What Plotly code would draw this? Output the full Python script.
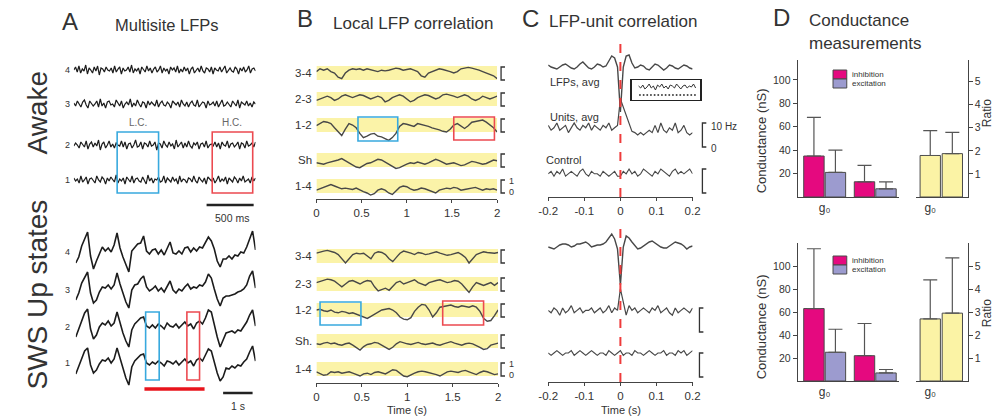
import numpy as np
import plotly.graph_objects as go

# ====================== DATA ======================
# Panel A - multisite LFPs (arbitrary units), awake window 0-1.93 s, SWS window 0-6.1 s
A_AWAKE_SECONDS = 1.93
A_AWAKE_CH4 = [0,3,-2,4,-3,1,-1,5,-4,2,0,-3,3,-1,4,-5,2,1,-2,3,0,-1,2,-3,4,-2,1,3,-4,2,-1,0,3,-2,5,-3,1,-1,2,-4,3,0,-2,4,-1,2,-3,1,3,-2,0,4,-3,2,-1,1,-4,3,0,2,-2,4,-3,1,-2,3,-1,2,-4,1,3,-3,0,2,-2,4,-1,-3,2,1,-2,3,-4,2,0,-1,3,-2,1,4,-3,0,2,-1,-2,3,1,-4,2,-1,3,-2,0,4,-3,1,2,-1]
A_AWAKE_CH3 = [1,-2,3,0,-3,2,4,-1,-4,3,1,-2,0,3,-3,5,-2,1,-4,2,3,-1,0,-3,4,1,-2,3,-4,0,2,-1,5,-3,1,-2,4,0,-3,2,1,-4,3,-1,2,0,-2,4,-3,1,3,-1,-2,2,0,-4,3,1,-1,2,-3,4,0,-2,2,-3,1,3,-1,-2,4,-3,0,2,1,-4,3,-1,0,2,-2,3,-3,1,4,-2,-1,2,0,-3,3,1,-2,4,-4,2,0,-1,3,-2,1,-3,2,0]
A_AWAKE_CH2 = [-1,2,0,-3,3,1,-2,4,-4,1,3,-2,2,-1,5,-5,1,3,-3,0,4,-2,1,-3,2,0,-1,4,-2,3,-4,1,2,-3,0,5,-2,-1,3,-4,2,1,-2,4,-1,0,3,-5,2,1,-3,4,0,-2,3,-1,1,-4,5,-2,0,3,-3,2,-2,4,-1,-3,2,0,3,-4,1,2,-2,4,-3,0,1,-1,3,-2,2,-4,3,0,-1,4,-3,1,2,-2,0,3,-4,2,1,-3,4,-1,0,2,-2,3]
A_AWAKE_CH1 = [2,-1,1,-3,4,-2,0,3,-4,1,2,-1,-3,4,0,-2,3,1,-4,2,-1,3,0,-2,5,-3,1,-1,2,-4,3,0,-2,4,-3,1,2,-1,-2,3,0,-4,5,-1,2,-3,1,0,3,-2,-1,4,-3,2,0,-2,3,-1,1,-4,4,-2,1,0,-3,2,1,-2,4,-1,-3,3,0,-2,2,-4,3,1,-1,2,-3,0,4,-2,1,-1,3,-4,2,0,-2,3,1,-3,2,-1,4,-2,0,1,-3,3,-1,2]

A_SWS_SECONDS = 6.1
A_SWS_CH4 = [-11,-5,6,14,20,-4,-17,-9,-1,5,1,4,0,7,19,4,-5,-12,-20,1,4,8,9,16,1,-2,2,3,-2,2,-3,3,10,-1,-2,1,-2,4,5,0,4,1,5,4,9,15,11,3,-9,-15,-7,-7,-4,-7,-3,-4,0,-1,5,13,21,2]
A_SWS_CH3 = [-10,-3,7,13,18,-3,-13,-10,-2,3,2,5,1,5,17,6,-3,-12,-18,0,5,6,11,14,3,-1,1,4,-1,2,-2,3,9,0,-3,1,-1,3,6,1,3,2,5,4,8,16,12,1,-9,-16,-8,-6,-6,-5,-4,-2,-1,1,5,14,19,2]
A_SWS_CH2 = [-10,-2,8,14,18,-2,-12,-8,0,4,2,6,1,4,15,4,-6,-14,-20,-3,3,6,9,10,1,-1,2,-1,3,1,-2,4,1,0,3,-1,2,5,1,3,-2,4,6,3,9,17,15,2,-10,-20,-12,-6,-5,-4,-6,-3,-4,0,5,12,17,1]
A_SWS_CH1 = [-11,-3,6,12,15,-2,-10,-7,-1,3,2,5,0,4,15,5,-5,-15,-22,-4,2,5,8,9,0,-2,1,-1,2,0,-3,2,1,-1,2,-2,1,4,0,2,-3,3,5,2,8,14,12,1,-10,-18,-14,-5,-6,-3,-5,-2,-3,1,4,11,17,2]
A_CHANNEL_LABELS = ["1", "2", "3", "4"]

# Panel B - local LFP correlation (0..1), 0-2 s
B_PAIR_LABELS_AWAKE = ["3-4", "2-3", "1-2", "Sh", "1-4"]
B_PAIR_LABELS_SWS = ["3-4", "2-3", "1-2", "Sh.", "1-4"]
B_SECONDS = 2.0
B_TICKS = [0, 0.5, 1, 1.5, 2]
B_AWAKE_34 = [0.6,0.8,0.7,0.8,0.6,0.5,0.2,0.1,0.5,0.7,0.8,0.75,0.8,0.7,0.8,0.75,0.7,0.6,0.7,0.65,0.7,0.8,0.85,0.8,0.7,0.75,0.8,0.7,0.6,0.3,0.2,0.5,0.6,0.7,0.8,0.75,0.7,0.6,0.5,0.6,0.8,0.85,0.9,0.85,0.8,0.7,0.6,0.5,0.45,0.3,0.1]
B_AWAKE_23 = [0.4,0.5,0.6,0.7,0.6,0.4,0.5,0.7,0.8,0.7,0.6,0.7,0.8,0.75,0.6,0.5,0.6,0.7,0.6,0.3,0.4,0.6,0.7,0.8,0.7,0.5,0.3,0.4,0.6,0.7,0.8,0.75,0.6,0.5,0.6,0.8,0.85,0.8,0.7,0.6,0.7,0.8,0.7,0.5,0.4,0.5,0.7,0.6,0.5,0.6,0.7]
B_AWAKE_12 = [0.45,0.6,0.75,0.7,0.6,0.3,0.0,-0.25,0.2,0.6,0.5,0.3,-0.1,-0.4,-0.3,-0.15,-0.1,-0.3,-0.35,-0.5,-0.6,-0.4,-0.1,0.4,0.6,0.55,0.45,0.4,0.6,0.55,0.5,0.4,0.3,0.25,0.15,0.05,0.0,0.2,0.5,0.6,0.45,0.25,0.45,0.7,0.75,0.8,0.85,0.7,0.5,0.3,0.0]
B_AWAKE_SH = [0.3,0.25,0.2,0.3,0.35,0.4,0.5,0.6,0.45,0.3,0.1,0.0,-0.05,0.1,0.25,0.3,0.4,0.55,0.5,0.35,0.2,0.0,-0.1,-0.05,0.1,0.2,0.3,0.25,0.35,0.3,0.2,0.3,0.4,0.55,0.45,0.3,0.2,0.25,0.3,0.2,0.1,0.15,0.3,0.4,0.35,0.3,0.2,0.25,0.4,0.5,0.45]
B_AWAKE_14 = [0.2,0.3,0.35,0.5,0.6,0.5,0.4,0.3,0.35,0.3,0.25,0.35,0.2,0.1,0.0,-0.15,-0.05,0.2,0.3,0.2,0.0,-0.1,0.15,0.4,0.5,0.45,0.3,0.2,0.25,0.35,0.3,0.2,0.05,0.0,0.2,0.3,0.35,0.3,0.4,0.35,0.2,0.25,0.3,0.35,0.4,0.3,0.2,0.3,0.25,0.3,0.2]
B_SWS_34 = [0.7,0.8,0.85,0.9,0.85,0.75,0.6,0.3,0.0,0.3,0.6,0.7,0.65,0.7,0.5,0.3,0.7,0.8,0.75,0.6,0.3,0.1,0.4,0.7,0.85,0.8,0.7,0.6,0.75,0.7,0.6,0.65,0.75,0.8,0.7,0.6,0.55,0.6,0.7,0.75,0.6,0.4,0.0,0.3,0.6,0.7,0.8,0.75,0.7,0.7,0.75]
B_SWS_23 = [0.6,0.7,0.8,0.85,0.8,0.7,0.5,0.3,0.5,0.7,0.75,0.6,0.5,0.65,0.75,0.7,0.3,0.0,0.1,0.2,0.05,0.3,0.6,0.7,0.5,0.6,0.7,0.8,0.6,0.5,0.4,0.6,0.7,0.75,0.8,0.7,0.6,0.65,0.75,0.7,0.5,0.2,-0.1,0.3,0.6,0.5,0.4,0.5,0.6,0.4,0.6]
B_SWS_12 = [0.5,0.55,0.45,0.4,0.5,0.35,0.3,0.4,0.35,0.25,0.3,0.2,0.1,0.0,-0.1,0.05,0.2,0.35,0.5,0.55,0.6,0.5,0.3,0.0,-0.15,-0.2,-0.05,0.4,0.7,0.9,0.85,0.5,0.0,0.3,0.7,0.75,0.8,0.85,0.75,0.7,0.8,0.75,0.7,0.8,0.7,0.4,-0.1,-0.3,-0.25,0.1,0.5]
B_SWS_SH = [0.3,0.25,0.35,0.4,0.3,0.35,0.25,0.2,0.3,0.35,0.2,0.0,-0.15,0.1,0.25,0.3,0.4,0.35,0.2,0.1,-0.1,0.05,0.3,0.45,0.35,0.3,0.25,0.3,0.4,0.3,0.25,0.3,0.35,0.25,0.2,0.3,0.4,0.45,0.35,0.3,0.2,0.3,0.35,0.3,0.2,0.05,-0.1,-0.05,0.2,0.3,0.35]
B_SWS_14 = [0.3,0.2,0.05,0.1,0.3,0.25,0.3,0.2,0.25,0.3,0.2,0.1,0.0,0.15,0.2,0.1,0.25,0.3,0.2,0.15,0.3,0.45,0.4,0.2,0.0,-0.05,0.1,0.2,0.3,0.35,0.3,0.25,0.2,0.1,0.0,0.15,0.3,0.35,0.3,0.25,0.35,0.4,0.3,0.2,0.1,0.25,0.35,0.3,0.2,0.1,0.15]

# Panel C - LFP-unit correlation, lags -0.2..0.2 s
C_LAG_MIN, C_LAG_MAX = -0.2, 0.2
C_TICKS = [-0.2, -0.1, 0, 0.1, 0.2]
C_AWAKE_LFP = [2,0,-1,-2,0,2,3,1,-1,-2,0,3,5,2,-1,-2,0,3,2,0,1,6,11,9,0,-45,0,11,12,4,-1,0,2,1,-2,-3,0,3,2,-1,-3,-1,2,1,-1,-2,0,2,1,-1,-2]
C_AWAKE_UNITS_HZ = [9,7,8,10,7,8,9,6,8,10,8,7,9,8,10,7,9,8,7,9,8,10,7,8,9,20,16.5,13,9.5,6.5,6,5,6,5,6,7,6,9,6,10,7,6,8,7,10,6,7,9,6,5,6]
C_AWAKE_CONTROL_HZ = [8,9,7,9,8,10,7,8,9,8,7,9,10,8,7,9,8,8,7,9,8,7,8,9,7,7,9,8,10,8,9,7,8,10,9,8,7,9,8,10,9,8,7,9,10,8,9,8,9,10,8]
C_INSET_TRACE = [0.7,0.6,0.75,0.55,0.65,0.8,0.6,0.7,0.5,0.75,0.65,0.8,0.6,0.7,0.55,0.75,0.7,0.6,0.8,0.65,0.55,0.7,0.75,0.6,0.7,0.65,0.8,0.6]
C_INSET_DOTS = [0.25] * 16
C_SWS_LFP = [0,-1,-2,0,2,3,3,2,0,1,3,3,4,5,3,0,1,2,2,3,5,9,13,8,-2,-38,0,11,9,5,1,-2,-1,1,3,5,6,4,2,0,-1,-1,1,3,5,4,3,1,-2,0,1]
C_SWS_UNITS_HZ = [9,8,10,9,7,10,8,9,11,8,9,10,8,9,9,10,8,9,10,8,9,11,8,10,9,18,12,7,11,9,10,8,9,10,9,8,10,9,11,8,9,10,8,7,10,8,9,10,9,8,10]
C_SWS_CONTROL_HZ = [10,9,10,11,10,9,10,10,11,9,10,11,10,9,10,11,10,9,10,10,9,11,10,9,10,11,9,10,10,9,11,10,10,9,10,11,10,9,10,10,11,9,10,10,9,11,10,11,9,10,11]

# Panel D - conductance measurements (nS) and ratio
D_GROUPS = [0, 1]
D_AWAKE_INH = [35, 13]
D_AWAKE_INH_ERR = [33, 14]
D_AWAKE_EXC = [21, 7]
D_AWAKE_EXC_ERR = [19, 6]
D_AWAKE_RATIO = [1.8, 1.88]
D_AWAKE_RATIO_ERR = [1.08, 0.92]
D_SWS_INH = [63, 22]
D_SWS_INH_ERR = [52, 28]
D_SWS_EXC = [25, 7]
D_SWS_EXC_ERR = [20, 3]
D_SWS_RATIO = [2.7, 2.95]
D_SWS_RATIO_ERR = [1.7, 2.4]
D_CONDUCTANCE_TICKS = [20, 40, 60, 80, 100]
D_RATIO_TICKS = [1, 2, 3, 4, 5]

# ====================== STYLE / LAYOUT ======================
W, H = 1007, 418
FONT = "Liberation Sans, Arial, sans-serif"
TXT = "#333333"
DARK = "#1c1c1c"
GRAY = "#484848"
YELLOW = "#FBF3A8"
BLUE = "#38A9DE"
RED = "#EC4A50"
MAGENTA = "#E5097F"
LAVENDER = "#9C9BCF"
PALE = "#FBF3A5"
BAR_EDGE = "#4a4a4a"


def fx(x):
    return x / W


def fy(y):
    return 1 - y / H


layout = dict(width=W, height=H, margin=dict(l=0, r=0, t=0, b=0),
              paper_bgcolor="white", plot_bgcolor="rgba(0,0,0,0)",
              showlegend=False, font=dict(family=FONT, color=TXT),
              barmode="group", bargap=0.15, bargroupgap=0.05)
shapes, annotations = [], []
fig = go.Figure()

AXIS_BASE = dict(showgrid=False, zeroline=False, showline=False,
                 showticklabels=False, ticks="", fixedrange=True)
VIS_X = dict(showline=True, linecolor="#444", linewidth=1, ticks="outside",
             ticklen=3, tickcolor="#444", showticklabels=True,
             tickfont=dict(size=11.5, color=TXT))


def axes(i, x0, x1, ytop, ybot, xr, yr, xkw=None, ykw=None):
    s = "" if i == 1 else str(i)
    xa = dict(AXIS_BASE, domain=[fx(x0), fx(x1)], range=xr, anchor="y" + s)
    ya = dict(AXIS_BASE, domain=[fy(ybot), fy(ytop)], range=yr, anchor="x" + s)
    xa.update(xkw or {})
    ya.update(ykw or {})
    layout["xaxis" + s] = xa
    layout["yaxis" + s] = ya
    return "x" + s, "y" + s


def line(ax, x, y, color, width):
    fig.add_trace(go.Scatter(x=x, y=y, xaxis=ax[0], yaxis=ax[1], mode="lines",
                             line=dict(color=color, width=width),
                             hoverinfo="skip", showlegend=False))


def ann(text, x, y, size, xanchor="center", color=TXT, angle=0, yanchor="middle"):
    annotations.append(dict(text=text, x=fx(x), y=fy(y), xref="paper", yref="paper",
                            showarrow=False, font=dict(size=size, color=color, family=FONT),
                            xanchor=xanchor, yanchor=yanchor, textangle=angle))


def box_data(ax, t0, t1, ytop, ybot, color):
    shapes.append(dict(type="rect", xref=ax[0], yref="paper", x0=t0, x1=t1,
                       y0=fy(ybot), y1=fy(ytop), line=dict(color=color, width=1.6),
                       fillcolor="rgba(0,0,0,0)"))


def hbar_data(ax, t0, t1, y, color, width):
    shapes.append(dict(type="line", xref=ax[0], yref="paper", x0=t0, x1=t1,
                       y0=fy(y), y1=fy(y), line=dict(color=color, width=width)))


def bracket(x, ytop, ybot, tick=4, color="#333"):
    p = (f"M {fx(x + tick)},{fy(ytop)} L {fx(x)},{fy(ytop)} "
         f"L {fx(x)},{fy(ybot)} L {fx(x + tick)},{fy(ybot)}")
    shapes.append(dict(type="path", xref="paper", yref="paper", path=p,
                       line=dict(color=color, width=1.3)))


# ---------------- Panel A ----------------
axA1 = axes(1, 65, 250, 55, 200, [0, A_AWAKE_SECONDS], [0, 145])
awake_ch = [A_AWAKE_CH1, A_AWAKE_CH2, A_AWAKE_CH3, A_AWAKE_CH4]
awake_base_px = [180, 145, 104, 70]
for vals, b, lab in zip(awake_ch, awake_base_px, A_CHANNEL_LABELS):
    t = np.linspace(0, A_AWAKE_SECONDS, len(vals))
    line(axA1, t, np.array(vals) + (200 - b), DARK, 1.2)
    ann(lab, 59, b, 9)
box_data(axA1, 0.46, 0.90, 132, 193, BLUE)
box_data(axA1, 1.47, 1.90, 132, 193, RED)
ann("L.C.", 130, 122, 10, color="#666")
ann("H.C.", 226, 122, 10, color="#666")
hbar_data(axA1, 1.41, 1.91, 205, "#222", 2.5)
ann("500 ms", 226, 218, 10.5)

axA2 = axes(2, 67, 250, 220, 400, [0, A_SWS_SECONDS], [0, 180])
sws_ch = [A_SWS_CH1, A_SWS_CH2, A_SWS_CH3, A_SWS_CH4]
sws_base_px = [363, 327, 290, 252]
for vals, b, lab in zip(sws_ch, sws_base_px, A_CHANNEL_LABELS):
    t = np.linspace(0, A_SWS_SECONDS, len(vals))
    line(axA2, t, np.array(vals) + (400 - b), DARK, 1.6)
    ann(lab, 59, b, 9)
box_data(axA2, 2.37, 2.83, 312, 380, BLUE)
box_data(axA2, 3.77, 4.20, 312, 380, RED)
hbar_data(axA2, 2.33, 4.37, 389, "#E8141C", 3.5)
hbar_data(axA2, 5.0, 6.0, 393, "#222", 2.5)
ann("1 s", 232, 406, 10.5)

# ---------------- Panel B ----------------
PPU_B = 14.0


def panel_b(idx, ytop, ybot, band_bottoms, rows, labels, boxes, x1):
    ax = axes(idx, 312, x1, ytop, ybot, [0, B_SECONDS], [0, (ybot - ytop) / PPU_B],
              xkw=dict(VIS_X, tickvals=B_TICKS, ticktext=[f"{v:g}" for v in B_TICKS]))
    for vals, bb, lab in zip(rows, band_bottoms, labels):
        off = (ybot - bb) / PPU_B
        shapes.append(dict(type="rect", xref=ax[0], yref=ax[1], x0=0, x1=B_SECONDS,
                           y0=off, y1=off + 1, fillcolor=YELLOW, line=dict(width=0),
                           layer="below"))
        t = np.linspace(0, B_SECONDS, len(vals))
        line(ax, t, np.array(vals) + off, GRAY, 1.4)
        ann(lab, 310, bb - 7, 11.5, xanchor="right")
        bracket(500, bb - 13, bb)
    for (t0, t1, yt, yb, c) in boxes:
        box_data(ax, t0, t1, yt, yb, c)
    last = band_bottoms[-1]
    ann("1", 506, last - 12, 9, xanchor="left")
    ann("0", 506, last - 1, 9, xanchor="left")
    return ax


axB1 = panel_b(3, 55, 199, [80, 106, 132, 167, 193],
               [B_AWAKE_34, B_AWAKE_23, B_AWAKE_12, B_AWAKE_SH, B_AWAKE_14],
               B_PAIR_LABELS_AWAKE,
               [(0.46, 0.90, 117, 141, BLUE), (1.52, 1.97, 117, 140, RED)], 496)
axB2 = panel_b(4, 235, 383, [263, 291, 317, 348, 376],
               [B_SWS_34, B_SWS_23, B_SWS_12, B_SWS_SH, B_SWS_14],
               B_PAIR_LABELS_SWS,
               [(0.04, 0.49, 302, 325, BLUE), (1.39, 1.84, 301, 325, RED)], 497)
ann("Time (s)", 404, 410, 11)

# ---------------- Panel C ----------------
HZ_PX = 2.4


def panel_c(idx, ytop, ybot, lfp, units, control, lfp_base, units_zero, ctrl_zero, brx):
    ax = axes(idx, 548, 695, ytop, ybot, [C_LAG_MIN, C_LAG_MAX], [0, ybot - ytop],
              xkw=dict(VIS_X, tickvals=C_TICKS, ticktext=[f"{v:g}" for v in C_TICKS]))
    t = np.linspace(C_LAG_MIN, C_LAG_MAX, len(lfp))
    line(ax, t, np.array(lfp) + (ybot - lfp_base), GRAY, 1.4)
    t = np.linspace(C_LAG_MIN, C_LAG_MAX, len(units))
    line(ax, t, np.array(units) * HZ_PX + (ybot - units_zero), GRAY, 1.2)
    t = np.linspace(C_LAG_MIN, C_LAG_MAX, len(control))
    line(ax, t, np.array(control) * HZ_PX + (ybot - ctrl_zero), GRAY, 1.1)
    shapes.append(dict(type="line", xref=ax[0], yref="paper", x0=0, x1=0,
                       y0=fy(ybot), y1=fy(ytop + 5),
                       line=dict(color="#EE3B3B", width=2, dash="dash")))
    bracket(brx, units_zero - 10 * HZ_PX, units_zero)
    bracket(brx, ctrl_zero - 10 * HZ_PX, ctrl_zero)
    return ax


axC1 = panel_c(5, 35, 197, C_AWAKE_LFP, C_AWAKE_UNITS_HZ, C_AWAKE_CONTROL_HZ,
               67, 147, 193, 705)
axC2 = panel_c(6, 220, 382, C_SWS_LFP, C_SWS_UNITS_HZ, C_SWS_CONTROL_HZ,
               247, 332, 377, 702)
ann("LFPs, avg", 548, 82, 11, xanchor="left")
ann("Units, avg", 548, 117, 11, xanchor="left")
ann("Control", 544, 160, 11, xanchor="left")
ann("10 Hz", 712, 126, 10, xanchor="left")
ann("0", 712, 148, 10, xanchor="left")
ann("Time (s)", 622, 410, 11)

boxkw = dict(showline=True, mirror=True, linecolor="#222", linewidth=1.3)
axC3 = axes(7, 633, 703, 80, 100, [0, 1], [0, 1], xkw=boxkw, ykw=boxkw)
t = np.linspace(0.1, 0.93, len(C_INSET_TRACE))
line(axC3, t, C_INSET_TRACE, "#333", 1)
t = np.linspace(0.12, 0.92, len(C_INSET_DOTS))
fig.add_trace(go.Scatter(x=t, y=C_INSET_DOTS, xaxis=axC3[0], yaxis=axC3[1], mode="markers",
                         marker=dict(color="#444", size=2), hoverinfo="skip"))

# ---------------- Panel D ----------------
ERR = dict(type="data", symmetric=False, color="#555", thickness=1.2, width=7)


def panel_d(i_left, i_right, ytop, ybot, cmax, rmax, inh, inh_e, exc, exc_e, ratio, ratio_e):
    ykw = dict(showline=True, linecolor="#444", linewidth=1, ticks="outside", ticklen=4,
               tickcolor="#444", showticklabels=True, tickvals=D_CONDUCTANCE_TICKS,
               tickfont=dict(size=10.5, color=TXT))
    xkw = dict(showline=True, linecolor="#444", linewidth=1, showticklabels=True,
               tickvals=[0], ticktext=["g\u2080"], tickfont=dict(size=12, color=TXT))
    axl = axes(i_left, 802, 905, ytop, ybot, [-0.534, 1.466], [0, cmax], xkw=xkw, ykw=ykw)
    for vals, err, col in ((inh, inh_e, MAGENTA), (exc, exc_e, LAVENDER)):
        fig.add_trace(go.Bar(x=D_GROUPS, y=vals, xaxis=axl[0], yaxis=axl[1],
                             marker=dict(color=col, line=dict(color=BAR_EDGE, width=1)),
                             error_y=dict(ERR, array=err, arrayminus=[0] * len(err)),
                             hoverinfo="skip"))
    ykr = dict(ykw, side="right", tickvals=D_RATIO_TICKS)
    axr = axes(i_right, 922, 975, ytop, ybot, [-0.667, 1.69], [0, rmax], xkw=xkw, ykw=ykr)
    fig.add_trace(go.Bar(x=D_GROUPS, y=ratio, xaxis=axr[0], yaxis=axr[1], width=0.92,
                         marker=dict(color=PALE, line=dict(color=BAR_EDGE, width=1)),
                         error_y=dict(ERR, array=ratio_e, arrayminus=[0] * len(ratio_e)),
                         hoverinfo="skip"))
    return axl, axr


panel_d(8, 9, 60, 197, 117, 5.94, D_AWAKE_INH, D_AWAKE_INH_ERR, D_AWAKE_EXC,
        D_AWAKE_EXC_ERR, D_AWAKE_RATIO, D_AWAKE_RATIO_ERR)
panel_d(10, 11, 243, 381, 120, 6.0, D_SWS_INH, D_SWS_INH_ERR, D_SWS_EXC,
        D_SWS_EXC_ERR, D_SWS_RATIO, D_SWS_RATIO_ERR)

for ytop_leg, yc in ((70, 141), (256, 327)):
    for k, (col, name) in enumerate(((MAGENTA, "inhibition"), (LAVENDER, "excitation"))):
        y0 = ytop_leg + k * 9
        shapes.append(dict(type="rect", xref="paper", yref="paper", x0=fx(838), x1=fx(852),
                           y0=fy(y0 + 9), y1=fy(y0), fillcolor=col,
                           line=dict(color=BAR_EDGE, width=1)))
        ann(name, 855, y0 + 4.5, 8, xanchor="left")
    ann("Conductance (nS)", 765, yc, 13, angle=-90)
ann("Ratio", 995, 113, 12, angle=-90)
ann("Ratio", 995, 313, 12, angle=-90)

# ---------------- Titles ----------------
ann("Awake", 27, 113, 28, angle=-90)
ann("SWS Up states", 27, 295, 28, angle=-90)
ann("A", 61, 22, 24)
ann("Multisite LFPs", 160, 25, 16.5)
ann("B", 300, 19, 24)
ann("Local LFP correlation", 410, 23, 17)
ann("C", 530, 18, 24)
ann("LFP-unit correlation", 624, 22, 17)
ann("D", 786, 17, 24)
ann("Conductance", 812, 20, 17, xanchor="left")
ann("measurements", 812, 43, 17, xanchor="left")

layout["shapes"] = shapes
layout["annotations"] = annotations
fig.update_layout(**layout)
fig.write_html("out.html", config={"displayModeBar": False, "staticPlot": True},
               post_script="document.body.style.margin='0px';document.body.style.overflow='hidden';")
